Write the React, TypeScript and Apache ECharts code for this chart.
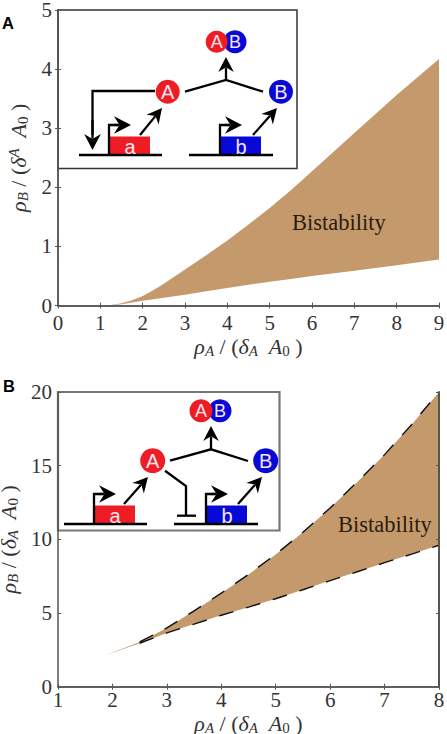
import React, { useEffect, useRef } from "react";
import * as echarts from "echarts";

const topX = [1.2, 1.5, 1.75, 2, 2.25, 2.5, 3, 3.5, 4, 4.5, 5, 5.5, 6, 7, 8, 9];
const topUpper = [0, 0.04, 0.09, 0.16, 0.26, 0.37, 0.61, 0.85, 1.1, 1.37, 1.65, 1.95, 2.27, 2.92, 3.56, 4.17];
const topLower = [0, 0.02, 0.05, 0.08, 0.105, 0.13, 0.18, 0.24, 0.295, 0.35, 0.4, 0.45, 0.5, 0.59, 0.68, 0.78];

const bottomX = [1.85, 2.5, 3, 3.5, 4, 4.5, 5, 5.5, 6, 6.5, 7, 7.5, 8];
const bottomUpper = [2.1, 3.04, 3.99, 5.15, 6.35, 7.62, 8.98, 10.48, 12.13, 13.9, 15.75, 17.8, 20];
const bottomLower = [2.1, 2.95, 3.65, 4.25, 4.85, 5.4, 5.97, 6.58, 7.2, 7.8, 8.42, 9.0, 9.6];

const topXTicks = { min: 0, max: 9, interval: 1 };
const topYTicks = { min: 0, max: 5, interval: 1 };
const bottomXTicks = { min: 1, max: 8, interval: 1 };
const bottomYTicks = { min: 0, max: 20, interval: 5 };

const AXIS = "#555555";
const BAND = "#c49a6c";
const RED = "#ee1c25";
const BLUE = "#0808d8";
const SERIF = "'Liberation Serif', serif";
const SANS = "'Liberation Sans', sans-serif";

const sub = { fontFamily: SERIF, fontSize: 15, fontStyle: "italic", color: "#333", padding: [9, 0, 0, 0], verticalAlign: "middle", lineHeight: 15 };
const sup = { fontFamily: SERIF, fontSize: 15, fontStyle: "italic", color: "#333", padding: [0, 0, 9, 0], verticalAlign: "middle", lineHeight: 15 };
const it = { fontFamily: SERIF, fontSize: 22, fontStyle: "italic", color: "#333", lineHeight: 24 };
const up = { fontFamily: SERIF, fontSize: 22, color: "#333", lineHeight: 24 };
const subUp = { ...sub, fontStyle: "normal" };
const rich = { it, up, sub, sup, subUp };

const xName = "{it|ρ}{sub|A}{up| / (}{it|δ}{sub|A}{it|  A}{subUp|0}{up| )}";
const yNameTop = "{it|ρ}{sub|B}{up| / (}{it|δ}{sup|A}{it|  A}{subUp|0}{up| )}";
const yNameBottom = "{it|ρ}{sub|B}{up| / (}{it|δ}{sub|A}{it|  A}{subUp|0}{up| )}";

function band(xs: number[], upper: number[], lower: number[], gridIndex: number) {
  return {
    type: "custom",
    xAxisIndex: gridIndex * 2,
    yAxisIndex: gridIndex * 2,
    z: 2,
    silent: true,
    data: xs.map((x, i) => [x, upper[i], lower[i]]),
    encode: { x: 0, y: [1, 2] },
    renderItem: (params: any, api: any) => {
      if (params.dataIndex !== 0) return { type: "group", children: [] };
      const pts = [
        ...xs.map((x, i) => api.coord([x, upper[i]])),
        ...xs.map((x, i) => api.coord([x, lower[i]])).reverse(),
      ];
      return { type: "polygon", shape: { points: pts }, style: { fill: BAND } };
    },
  };
}

function dashed(xs: number[], ys: number[]) {
  return {
    type: "line",
    xAxisIndex: 2,
    yAxisIndex: 2,
    z: 3,
    symbol: "none",
    silent: true,
    lineStyle: { color: "#111", width: 1.4, type: [15, 13] },
    data: xs.filter((x) => x >= 2.4).map((x) => [x, ys[xs.indexOf(x)]]),
  };
}

function mainX(t: any, gridIndex: number, name: string, gap: number, margin: number) {
  return {
    type: "value", gridIndex, ...t, position: "bottom", z: 20,
    name, nameLocation: "middle", nameGap: gap, nameTextStyle: { rich },
    axisLine: { lineStyle: { color: AXIS, width: 1.5 } },
    axisTick: { inside: true, length: 3, lineStyle: { color: AXIS } },
    axisLabel: { fontFamily: SERIF, fontSize: 21, color: "#333", margin, hideOverlap: false, showMinLabel: true, showMaxLabel: true },
    splitLine: { show: false },
  };
}
function mainY(t: any, gridIndex: number, name: string, gap: number) {
  return {
    type: "value", gridIndex, ...t, position: "left", z: 20,
    name, nameLocation: "middle", nameGap: gap, nameRotate: 90, nameTextStyle: { rich },
    axisLine: { show: true, lineStyle: { color: AXIS, width: 1.5 } },
    axisTick: { show: true, inside: true, length: 3, lineStyle: { color: AXIS } },
    axisLabel: { fontFamily: SERIF, fontSize: 21, color: "#333", margin: 6, showMinLabel: true, showMaxLabel: true },
    splitLine: { show: false },
  };
}
function sideAxis(t: any, gridIndex: number, position: string, width: number) {
  return {
    type: "value", gridIndex, ...t, position, z: 20,
    axisLine: { show: true, lineStyle: { color: AXIS, width } },
    axisTick: { show: true, inside: true, length: 3, lineStyle: { color: AXIS } },
    axisLabel: { show: false },
    splitLine: { show: false },
  };
}

function seg(points: number[][], width = 2.3) {
  return { type: "polyline", z: 11, shape: { points }, style: { stroke: "#000", lineWidth: width, fill: "none" } };
}
function arrow(x1: number, y1: number, x2: number, y2: number, size = 14) {
  const a = Math.atan2(y2 - y1, x2 - x1);
  const p = (d: number, s: number) => [x2 - d * Math.cos(a) - s * Math.sin(a), y2 - d * Math.sin(a) + s * Math.cos(a)];
  return [
    seg([[x1, y1], p(size * 0.7, 0)]),
    { type: "polygon", z: 12, shape: { points: [[x2, y2], p(size, size * 0.52), p(size * 0.68, 0), p(size, -size * 0.52)] }, style: { fill: "#000" } },
  ];
}
function ball(cx: number, cy: number, r: number, fill: string, label: string, z = 13, size = 20) {
  return [
    { type: "circle", z, shape: { cx, cy, r }, style: { fill } },
    { type: "text", z: z + 2, x: cx, y: cy + 0.5, style: { text: label, fill: "#f6e6ee", font: `${size}px ${SANS}`, align: "center", verticalAlign: "middle" } },
  ];
}
function gene(x: number, y: number, fill: string, label: string, lineStart: number, lineEnd: number) {
  return [
    { type: "rect", z: 11, shape: { x, y: y - 18.5, width: 40, height: 18.5 }, style: { fill } },
    { type: "text", z: 14, x: x + 20, y: y - 8, style: { text: label, fill: "#f6e6ee", font: `20px ${SANS}`, align: "center", verticalAlign: "middle" } },
    seg([[lineStart, y], [lineEnd, y]]),
    seg([[x - 1, y], [x - 1, y - 30], [x + 8, y - 30]]),
    ...arrow(x + 4, y - 30, x + 21, y - 30, 17),
  ];
}

const insetA = [
  { type: "rect", z: 10, shape: { x: 58, y: 10, width: 239, height: 158.5 }, style: { fill: "#fff", stroke: "#333", lineWidth: 1.5 } },
  ...ball(167.7, 91.7, 12, RED, "A"),
  ...ball(281, 91.7, 12, BLUE, "B"),
  ...ball(235, 41.7, 11.5, BLUE, "B", 13, 18),
  ...ball(216.7, 41.7, 11, RED, "A", 15, 18),
  seg([[185, 91.7], [226, 80], [263, 91.7]]),
  ...arrow(226, 80, 226, 57, 15),
  seg([[155, 91], [92.5, 91], [92.5, 135]]),
  ...arrow(92.5, 120, 92.5, 150, 16),
  ...gene(110, 155, RED, "a", 79, 162),
  ...gene(221, 155, BLUE, "b", 189, 273),
  ...arrow(140, 135, 162, 108, 15),
  ...arrow(253, 135, 277, 108, 15),
];

const insetB = [
  { type: "rect", z: 10, shape: { x: 58, y: 392, width: 221.5, height: 138.5 }, style: { fill: "#fff", stroke: "#777", lineWidth: 2.2 } },
  ...ball(152.7, 460.7, 12.5, RED, "A"),
  ...ball(265.7, 460.7, 12.5, BLUE, "B"),
  ...ball(220, 410.7, 11.5, BLUE, "B", 13, 18),
  ...ball(201, 410.7, 11.5, RED, "A", 15, 18),
  seg([[170, 460.7], [211, 449.3], [248, 461]]),
  ...arrow(211, 449, 211, 426, 15),
  seg([[165, 470.7], [186, 486], [186, 515.5]]),
  seg([[177, 515.7], [196, 515.7]]),
  ...gene(95, 524, RED, "a", 64, 147),
  ...gene(207, 524, BLUE, "b", 174, 258),
  ...arrow(124, 504, 148, 477, 15),
  ...arrow(238, 504, 262, 477, 15),
];

const labels = [
  { type: "text", z: 16, x: 2, y: 14, style: { text: "A", fill: "#000", font: `bold 16.5px ${SANS}` } },
  { type: "text", z: 16, x: 3, y: 377, style: { text: "B", fill: "#000", font: `bold 16.5px ${SANS}` } },
  { type: "text", z: 16, x: 292, y: 211, style: { text: "Bistability", fill: "#2a1a0c", font: `22.5px ${SERIF}` } },
  { type: "text", z: 16, x: 338, y: 513, style: { text: "Bistability", fill: "#2a1a0c", font: `22.5px ${SERIF}` } },
];

export default function App() {
  const ref = useRef<HTMLDivElement>(null);
  useEffect(() => {
    document.body.style.margin = "0";
    const chart = echarts.init(ref.current!, null, { renderer: "svg" });
    chart.setOption({
      animation: false,
      backgroundColor: "#fff",
      grid: [
        { left: 58, top: 10, width: 381, height: 295.5, outerBoundsMode: "none" },
        { left: 58, top: 392, width: 381, height: 294.7, outerBoundsMode: "none" },
      ],
      xAxis: [
        mainX(topXTicks, 0, xName, 29, 7),
        sideAxis(topXTicks, 0, "top", 1.5),
        mainX(bottomXTicks, 1, xName, 22, 3),
        sideAxis(bottomXTicks, 1, "top", 1.5),
      ],
      yAxis: [
        mainY(topYTicks, 0, yNameTop, 28),
        sideAxis(topYTicks, 0, "right", 1.5),
        mainY(bottomYTicks, 1, yNameBottom, 27),
        sideAxis(bottomYTicks, 1, "right", 2),
      ],
      series: [
        band(topX, topUpper, topLower, 0),
        band(bottomX, bottomUpper, bottomLower, 1),
        dashed(bottomX, bottomUpper),
        dashed(bottomX, bottomLower),
      ],
      graphic: { elements: [...insetA, ...insetB, ...labels] },
    });
    return () => chart.dispose();
  }, []);
  return <div ref={ref} style={{ position: "absolute", left: 0, top: 0, width: 447, height: 734 }} />;
}
